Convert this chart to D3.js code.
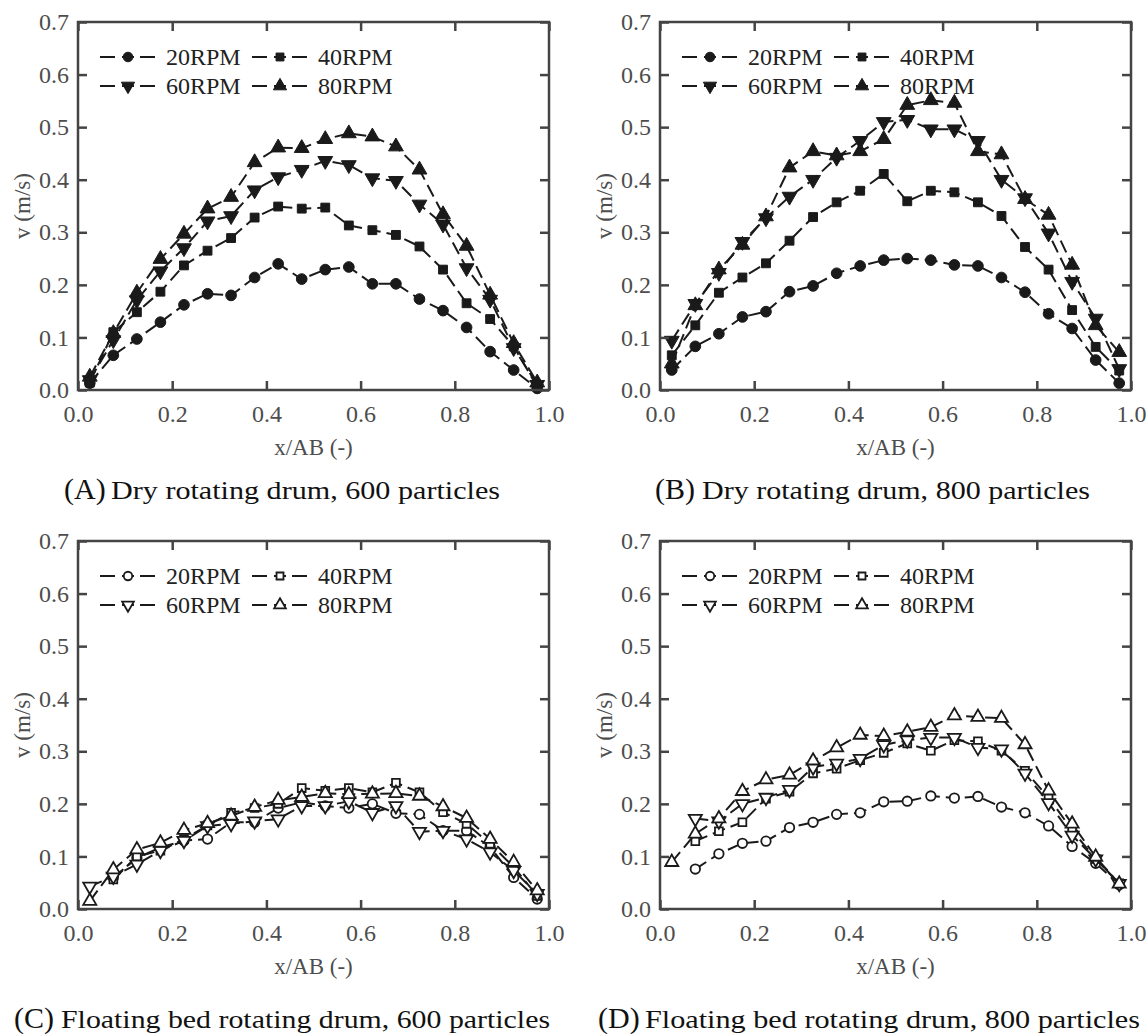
<!DOCTYPE html>
<html>
<head>
<meta charset="utf-8">
<script src="https://cdn.jsdelivr.net/npm/d3@7"></script>
<style>
  body { margin: 0; background: #fff; }
  svg, text { font-family: "Liberation Serif", "Times New Roman", serif; }
</style>
</head>
<body>
<script>
// positions along AB where velocity was sampled
var xPos = [0.025, 0.075, 0.125, 0.175, 0.225, 0.275, 0.325, 0.375, 0.425, 0.475,
            0.525, 0.575, 0.625, 0.675, 0.725, 0.775, 0.825, 0.875, 0.925, 0.975];
var rpmLabels = ["20RPM", "40RPM", "60RPM", "80RPM"];
var xTicks = [0, 0.2, 0.4, 0.6, 0.8, 1.0];
var yTicks = [0, 0.1, 0.2, 0.3, 0.4, 0.5, 0.6, 0.7];
var panelLetters = ["(A)", "(B)", "(C)", "(D)"];
var panelCaptions = ["Dry rotating drum, 600 particles",
                     "Dry rotating drum, 800 particles",
                     "Floating bed rotating drum, 600 particles",
                     "Floating bed rotating drum, 800 particles"];

// (A) dry, 600 particles
var dry600_20 = [0.013, 0.066, 0.097, 0.129, 0.162, 0.183, 0.180, 0.214, 0.240, 0.211, 0.229, 0.234, 0.202, 0.202, 0.173, 0.151, 0.119, 0.073, 0.038, 0.003];
var dry600_40 = [0.014, 0.110, 0.148, 0.187, 0.237, 0.265, 0.289, 0.328, 0.349, 0.345, 0.347, 0.313, 0.304, 0.295, 0.273, 0.229, 0.165, 0.135, 0.083, 0.006];
var dry600_60 = [0.019, 0.095, 0.171, 0.226, 0.270, 0.321, 0.331, 0.380, 0.405, 0.419, 0.436, 0.428, 0.403, 0.398, 0.353, 0.315, 0.232, 0.172, 0.080, 0.010];
var dry600_80 = [0.025, 0.108, 0.185, 0.249, 0.297, 0.345, 0.367, 0.433, 0.461, 0.460, 0.477, 0.488, 0.482, 0.463, 0.419, 0.334, 0.274, 0.181, 0.089, 0.014];

// (B) dry, 800 particles
var dry800_20 = [0.038, 0.083, 0.107, 0.139, 0.149, 0.187, 0.198, 0.222, 0.236, 0.247, 0.250, 0.247, 0.238, 0.236, 0.214, 0.186, 0.145, 0.117, 0.057, 0.013];
var dry800_40 = [0.066, 0.123, 0.185, 0.214, 0.241, 0.284, 0.329, 0.357, 0.379, 0.411, 0.359, 0.379, 0.376, 0.357, 0.331, 0.272, 0.229, 0.152, 0.082, 0.037];
var dry800_60 = [0.094, 0.164, 0.223, 0.282, 0.327, 0.368, 0.400, 0.442, 0.474, 0.510, 0.514, 0.496, 0.496, 0.474, 0.400, 0.365, 0.298, 0.206, 0.136, 0.040];
var dry800_80 = [0.050, 0.161, 0.229, 0.276, 0.330, 0.423, 0.454, 0.446, 0.454, 0.477, 0.542, 0.551, 0.546, 0.454, 0.448, 0.363, 0.333, 0.238, 0.123, 0.072];

// (C) floating bed, 600 particles
var float600_20 = [null, 0.060, 0.097, 0.117, 0.130, 0.133, 0.165, 0.165, 0.192, 0.203, 0.196, 0.192, 0.200, 0.182, 0.180, 0.149, 0.149, 0.118, 0.060, 0.019];
var float600_40 = [null, 0.056, 0.100, 0.111, 0.133, 0.159, 0.183, 0.192, 0.200, 0.230, 0.225, 0.230, 0.222, 0.240, 0.222, 0.184, 0.162, 0.124, 0.080, 0.025];
var float600_60 = [0.043, 0.062, 0.085, 0.111, 0.130, 0.158, 0.162, 0.167, 0.171, 0.196, 0.196, 0.205, 0.183, 0.196, 0.147, 0.149, 0.133, 0.108, 0.073, 0.029];
var float600_80 = [0.015, 0.075, 0.113, 0.126, 0.150, 0.163, 0.177, 0.194, 0.207, 0.213, 0.220, 0.218, 0.219, 0.220, 0.215, 0.195, 0.173, 0.133, 0.089, 0.035];

// (D) floating bed, 800 particles
var float800_20 = [null, 0.076, 0.105, 0.125, 0.129, 0.155, 0.165, 0.180, 0.183, 0.204, 0.205, 0.215, 0.211, 0.214, 0.194, 0.183, 0.158, 0.119, 0.087, 0.046];
var float800_40 = [null, 0.129, 0.148, 0.165, 0.210, 0.223, 0.258, 0.267, 0.283, 0.297, 0.315, 0.301, 0.321, 0.319, 0.301, 0.263, 0.212, 0.150, 0.095, 0.049];
var float800_60 = [null, 0.172, 0.167, 0.200, 0.212, 0.227, 0.270, 0.277, 0.286, 0.312, 0.321, 0.326, 0.326, 0.307, 0.304, 0.258, 0.202, 0.140, 0.095, 0.048];
var float800_80 = [0.089, 0.143, 0.172, 0.224, 0.246, 0.255, 0.282, 0.307, 0.331, 0.329, 0.337, 0.346, 0.368, 0.365, 0.363, 0.313, 0.225, 0.162, 0.099, 0.048];

// panel frames (page pixels), caption start/end in page pixels
var plotW = 471, plotH = 368;
var panels = [
  {left: 78,  top: 22,  series: [dry600_20, dry600_40, dry600_60, dry600_80], open: false, cap: [64, 500], capY: 499},
  {left: 660, top: 22,  series: [dry800_20, dry800_40, dry800_60, dry800_80], open: false, cap: [655, 1090], capY: 499},
  {left: 78,  top: 541, series: [float600_20, float600_40, float600_60, float600_80], open: true, cap: [14, 550], capY: 1028},
  {left: 660, top: 541, series: [float800_20, float800_40, float800_60, float800_80], open: true, cap: [598, 1140], capY: 1028}
];

var ink = "#1a1a1a", frameCol = "#444", labelCol = "#4d4d4d";
var serif = "'Liberation Serif', 'Times New Roman', serif";

// marker shapes: circle, square, down triangle, up triangle
var shapes = [d3.symbolCircle, d3.symbolSquare, d3.symbolTriangle, d3.symbolTriangle];
var shapeSize = [90, 78, 95, 95];
var shapeRot = [0, 0, 180, 0];

var svg = d3.select("body").append("svg")
    .attr("width", 1148)
    .attr("height", 1036)
    .style("font-family", serif);

var x = d3.scaleLinear().domain([0, 1]).range([0, plotW]);
var y = d3.scaleLinear().domain([0, 0.7]).range([plotH, 0]);

function addMarker(sel, i, open, scale) {
  return sel.append("path")
      .attr("d", d3.symbol().type(shapes[i]).size(shapeSize[i] * (open ? 0.78 : 1) * (scale || 1))())
      .attr("fill", open ? "#fff" : ink)
      .attr("stroke", ink)
      .attr("stroke-width", open ? 1.8 : 1);
}

panels.forEach(function(p, pi) {
  var g = svg.append("g")
      .attr("transform", "translate(" + p.left + "," + p.top + ")");

  // the data lines, then the markers on top
  p.series.forEach(function(vals, si) {
    var pts = xPos.map(function(d, k) { return {x: d, v: vals[k]}; });
    var line = d3.line()
        .defined(function(d) { return d.v != null; })
        .x(function(d) { return x(d.x); })
        .y(function(d) { return y(d.v); });

    g.append("path")
        .datum(pts)
        .attr("d", line)
        .attr("fill", "none")
        .attr("stroke", ink)
        .attr("stroke-width", 2)
        .attr("stroke-dasharray", "13,6");

    pts.filter(function(d) { return d.v != null; }).forEach(function(d) {
      addMarker(g, si, p.open)
          .attr("transform", "translate(" + x(d.x) + "," + y(d.v) + ") rotate(" + shapeRot[si] + ")");
    });
  });

  // inward ticks on all four sides
  var tickLen = 9;
  g.append("g").call(d3.axisLeft(y).tickValues(yTicks).tickSize(-tickLen).tickFormat(d3.format(".1f")).tickPadding(9));
  g.append("g").attr("transform", "translate(" + plotW + ",0)")
      .call(d3.axisRight(y).tickValues(yTicks).tickSize(-tickLen).tickFormat(""));
  g.append("g").attr("transform", "translate(0," + plotH + ")")
      .call(d3.axisBottom(x).tickValues(xTicks).tickSize(-tickLen).tickFormat(d3.format(".1f")).tickPadding(15));
  g.append("g")
      .call(d3.axisTop(x).tickValues(xTicks).tickSize(-tickLen).tickFormat(""));

  g.selectAll("g").attr("font-family", null).attr("font-size", null);
  g.selectAll(".domain").remove();
  g.selectAll(".tick line").attr("stroke", frameCol).attr("stroke-width", 2.5);
  g.selectAll(".tick text")
      .attr("fill", labelCol)
      .style("font-family", serif)
      .style("font-size", "24px");

  g.append("rect")
      .attr("width", plotW)
      .attr("height", plotH)
      .attr("fill", "none")
      .attr("stroke", frameCol)
      .attr("stroke-width", 2.5);

  // axis titles
  g.append("text")
      .attr("x", plotW / 2)
      .attr("y", plotH + 65)
      .attr("text-anchor", "middle")
      .attr("fill", labelCol)
      .style("font-family", serif)
      .style("font-size", "23px")
      .text("x/AB (-)");

  g.append("text")
      .attr("transform", "rotate(-90)")
      .attr("x", -plotH / 2)
      .attr("y", -48)
      .attr("text-anchor", "middle")
      .attr("fill", labelCol)
      .style("font-family", serif)
      .style("font-size", "23px")
      .text("v (m/s)");

  // legend, two columns by two rows
  rpmLabels.forEach(function(lab, li) {
    var lx = 22 + (li % 2) * 152;
    var ly = 35 + Math.floor(li / 2) * 29;
    var lg = g.append("g").attr("transform", "translate(" + lx + "," + ly + ")");
    lg.append("line")
        .attr("x1", 0).attr("x2", 55)
        .attr("stroke", ink)
        .attr("stroke-width", 2)
        .attr("stroke-dasharray", "15,7,12,6,15");
    addMarker(lg, li, p.open, 0.8)
        .attr("transform", "translate(28,0) rotate(" + shapeRot[li] + ")");
    lg.append("text")
        .attr("x", 66)
        .attr("y", 8)
        .attr("fill", "#222")
        .style("font-family", serif)
        .style("font-size", "24px")
        .text(lab);
  });

  // caption under the panel
  svg.append("text")
      .attr("x", p.cap[0])
      .attr("y", p.capY)
      .attr("fill", "#111")
      .style("font-family", serif)
      .style("font-size", "30px")
      .text(panelLetters[pi]);
  svg.append("text")
      .attr("x", p.cap[0] + 47)
      .attr("y", p.capY)
      .attr("fill", "#111")
      .attr("textLength", p.cap[1] - p.cap[0] - 47)
      .attr("lengthAdjust", "spacingAndGlyphs")
      .style("font-family", serif)
      .style("font-size", "26px")
      .text(panelCaptions[pi]);
});
</script>
</body>
</html>
